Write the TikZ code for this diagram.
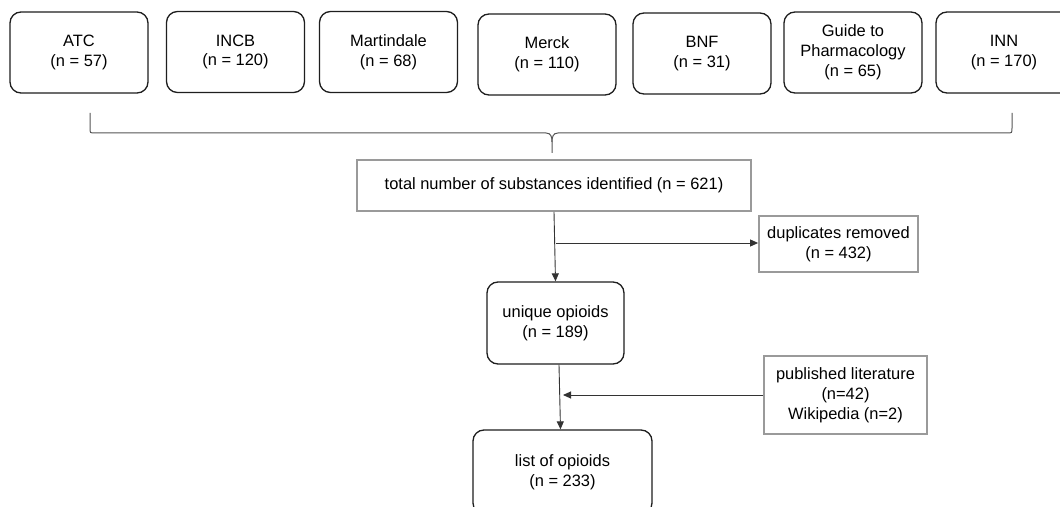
\documentclass[tikz,border=0pt]{standalone}
\usepackage{fontspec}
\setmainfont{Liberation Sans}
\usetikzlibrary{arrows.meta,calc}
\definecolor{boxdark}{HTML}{1E1E1E}
\definecolor{boxgray}{HTML}{9A9A9A}
\definecolor{linegray}{HTML}{555555}
\definecolor{arrowc}{HTML}{333333}
\tikzset{
  txt/.style={font=\fontsize{16.5}{20}\selectfont, align=center, text=black, inner sep=0pt},
  srcbox/.style={txt, draw=boxdark, line width=1.3bp, rounded corners=11bp, minimum width=138bp, minimum height=81bp},
  rbox/.style={txt, draw=boxdark, line width=1.3bp, rounded corners=11bp},
  gbox/.style={txt, draw=boxgray, line width=1.8bp},
  arr/.style={draw=arrowc, line width=0.9bp, -{Triangle[length=8bp,width=7bp]}},
  brace/.style={draw=linegray, line width=1bp}
}
\begin{document}
\begin{tikzpicture}[x=1bp,y=-1bp]
\useasboundingbox (0,0) rectangle (1060,507);
\fill[white] (0,0) rectangle (1060,507);
\clip (0,0) rectangle (1060,507);
% source boxes
\node[srcbox] (atc)   at (79,52.5)   {ATC\\(n = 57)};
\node[srcbox] (incb)  at (235.5,52)  {INCB\\(n = 120)};
\node[srcbox] (mart)  at (388.5,52)  {Martindale\\(n = 68)};
\node[srcbox] (merck) at (547,54.5)  {Merck\\(n = 110)};
\node[srcbox] (bnf)   at (702,53.5)  {BNF\\(n = 31)};
\node[srcbox] (guide) at (853,52.5)  {Guide to\\Pharmacology\\(n = 65)};
\node[srcbox, minimum width=136bp] (inn) at (1004,52.5) {INN\\(n = 170)};
% brace
\coordinate (bl) at (90,113);
\coordinate (br) at (1012,113);
\coordinate (btip) at (552,153);
\draw[brace] (bl) -- (90,128) .. controls (90,133) .. (95,133) -- (546,133)
   .. controls (551,133) and (552,137) .. (552,142) -- (btip);
\draw[brace] (br) -- (1012,128) .. controls (1012,133) .. (1007,133) -- (558,133)
   .. controls (553,133) and (552,137) .. (552,142);
% lower nodes
\node[gbox, minimum width=394bp, minimum height=51bp] (total) at (554,185.5) {total number of substances identified (n = 621)};
\node[gbox, minimum width=159bp, minimum height=56bp] (dup) at (838.5,244) {duplicates removed\\(n = 432)};
\node[rbox, minimum width=137bp, minimum height=82bp] (uniq) at (555.5,323) {unique opioids\\(n = 189)};
\node[gbox, minimum width=163bp, minimum height=78bp] (pub) at (845.5,395) {published literature\\(n=42)\\Wikipedia (n=2)};
\node[rbox, minimum width=179bp, minimum height=84bp] (list) at (562.5,472) {list of opioids\\(n = 233)};
% connectors
\draw[arr] (total.south) -- (uniq.north);
\coordinate (b1) at (556,243);
\draw[arr] (b1) -- (b1 -| dup.west);
\draw[arr] ([xshift=3.5bp]uniq.south) -- ([xshift=-2bp]list.north);
\coordinate (b2) at (563,395);
\draw[arr] (pub.west) -- (b2);
\end{tikzpicture}
\end{document}
